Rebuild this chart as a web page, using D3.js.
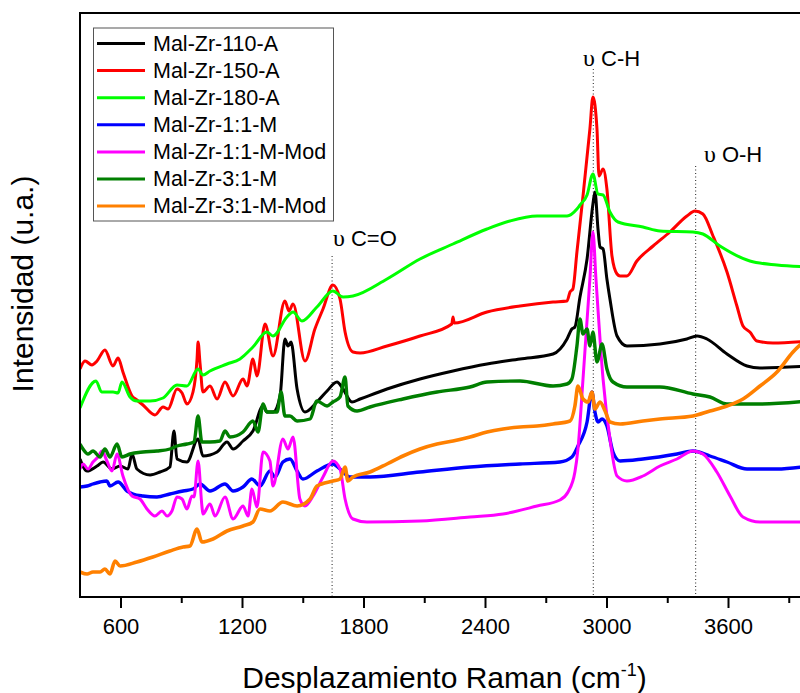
<!DOCTYPE html>
<html>
<head>
<meta charset="utf-8">
<script src="https://cdn.jsdelivr.net/npm/d3@7"></script>
<style>
  html, body { margin: 0; padding: 0; background: #fff; }
  svg { display: block; font-family: "Liberation Sans", Arial, sans-serif; }
</style>
</head>
<body>
<svg id="chart" width="800" height="693"></svg>
<script>
// Raman spectra: [wavenumber (cm-1), intensity (a.u.)]
const mal110A = [
  [400,138],[435,126],[484,131],[514,135],[558,128],[598,131],[637,128],[657,143],[681,128],
  [746,122],[795,125],[844,130],[864,166],[879,138],[928,135],[983,158],[1007,141],[1077,145],
  [1126,155],[1156,148],[1205,156],[1254,166],[1304,191],[1323,185],[1353,185],[1388,201],
  [1412,258],[1427,251],[1442,255],[1472,208],[1511,185],[1570,195],[1620,206],[1669,215],
  [1699,208],[1743,195],[1783,198],[1916,208],[2079,218],[2242,226],[2410,233],[2573,238],
  [2736,243],[2805,258],[2829,268],[2844,270],[2869,300],[2904,338],[2933,393],[2943,405],
  [2958,368],[2968,350],[2983,348],[3002,318],[3017,298],[3052,261],[3101,251],[3264,253],
  [3397,258],[3447,261],[3496,258],[3595,243],[3694,231],[3758,229],[4000,231]
];
const mal150A = [
  [400,228],[425,236],[459,232],[484,236],[523,247],[563,231],[588,239],[612,225],[657,201],
  [681,197],[711,192],[770,182],[810,190],[835,188],[879,208],[904,204],[928,193],[958,205],
  [978,238],[983,255],[993,233],[1007,205],[1042,211],[1077,198],[1116,215],[1156,201],
  [1205,218],[1225,211],[1254,238],[1274,221],[1314,273],[1353,241],[1412,296],[1432,286],
  [1452,293],[1511,236],[1560,268],[1600,288],[1649,312],[1684,298],[1709,265],[1748,245],
  [1783,244],[1916,251],[2079,261],[2236,273],[2242,280],[2248,274],[2410,285],[2573,291],
  [2736,295],[2805,296],[2820,305],[2834,308],[2854,345],[2884,401],[2918,468],[2933,500],
  [2953,468],[2963,421],[2983,428],[3002,408],[3027,341],[3052,323],[3067,321],[3101,321],
  [3150,336],[3230,351],[3313,365],[3397,381],[3437,386],[3476,383],[3526,361],[3595,325],
  [3644,291],[3674,271],[3708,265],[3743,256],[3822,254],[4000,256]
];
const mal180A = [
  [400,189],[479,216],[507,205],[563,205],[588,204],[607,215],[647,200],[681,196],[746,196],
  [810,199],[879,212],[928,211],[983,228],[1007,222],[1042,226],[1126,233],[1190,238],
  [1254,250],[1323,265],[1353,261],[1422,280],[1452,285],[1496,276],[1570,290],[1649,306],
  [1699,300],[1748,301],[1916,318],[2079,338],[2242,353],[2410,368],[2523,376],[2657,381],
  [2805,381],[2854,388],[2869,392],[2904,402],[2933,423],[2958,403],[2983,402],[3017,385],
  [3057,375],[3180,370],[3264,366],[3427,365],[3476,363],[3560,351],[3708,336],[3842,332],
  [4000,330]
];
const mal11M = [
  [400,110],[435,111],[464,113],[499,115],[533,116],[548,111],[588,115],[632,106],[662,103],
  [711,101],[780,100],[844,103],[909,106],[958,108],[993,113],[1042,106],[1116,113],[1156,106],
  [1205,110],[1249,118],[1289,111],[1338,126],[1363,120],[1402,135],[1437,138],[1472,126],
  [1501,118],[1570,126],[1649,133],[1684,128],[1733,120],[1832,120],[2079,125],[2326,130],
  [2573,133],[2770,135],[2829,140],[2859,151],[2904,175],[2928,205],[2943,185],[2958,175],
  [2978,178],[3002,171],[3032,145],[3067,136],[3180,138],[3348,143],[3427,146],[3511,141],
  [3595,135],[3694,128],[3842,128],[4000,131]
];
const mal11MMod = [
  [400,128],[415,133],[440,128],[464,135],[489,140],[509,146],[533,136],[558,126],[583,143],
  [612,121],[657,101],[696,98],[731,88],[770,81],[805,86],[830,81],[854,86],[879,100],[904,98],
  [928,88],[953,101],[963,100],[983,136],[1002,91],[1007,83],[1042,93],[1067,81],[1116,100],
  [1156,78],[1205,91],[1230,81],[1249,108],[1274,90],[1304,145],[1338,136],[1353,111],
  [1402,158],[1427,148],[1452,160],[1486,98],[1511,91],[1551,101],[1600,120],[1649,136],
  [1684,128],[1709,98],[1748,78],[1817,75],[2079,76],[2326,80],[2489,83],[2657,91],[2770,97],
  [2810,105],[2844,125],[2859,148],[2884,218],[2918,318],[2933,365],[2948,318],[2983,218],
  [3017,158],[3052,121],[3101,116],[3180,121],[3264,131],[3348,138],[3427,146],[3476,143],
  [3545,125],[3610,101],[3674,80],[3758,75],[4000,75]
];
const mal31M = [
  [400,153],[415,148],[440,143],[464,146],[499,140],[523,148],[548,140],[583,153],[607,140],
  [647,143],[711,145],[780,146],[844,148],[879,151],[928,153],[963,155],[983,181],[1002,155],
  [1042,155],[1091,156],[1116,166],[1141,160],[1205,165],[1254,176],[1279,165],[1304,193],
  [1323,185],[1373,185],[1393,205],[1412,181],[1437,181],[1472,176],[1536,178],[1570,196],
  [1620,191],[1649,195],[1684,200],[1709,220],[1723,191],[1768,186],[1832,190],[1995,198],
  [2163,205],[2326,210],[2410,215],[2573,216],[2736,211],[2805,213],[2829,218],[2854,251],
  [2869,278],[2884,263],[2904,268],[2918,251],[2933,265],[2953,235],[2978,253],[3002,228],
  [3032,215],[3101,210],[3264,210],[3427,203],[3511,200],[3595,193],[3758,193],[4000,196]
];
const mal31MMod = [
  [400,25],[435,23],[464,25],[499,25],[523,28],[548,23],[573,36],[598,31],[681,35],[760,40],
  [844,46],[909,50],[943,51],[978,68],[1002,55],[1057,58],[1126,66],[1205,71],[1254,75],
  [1289,88],[1338,86],[1402,95],[1472,91],[1536,98],[1570,111],[1649,116],[1684,118],
  [1709,130],[1723,116],[1748,120],[1832,125],[1916,133],[1995,141],[2079,148],[2163,153],
  [2242,156],[2326,160],[2410,165],[2489,168],[2573,170],[2657,171],[2736,173],[2820,176],
  [2844,191],[2859,211],[2884,198],[2909,195],[2928,205],[2943,188],[2968,195],[2993,186],
  [3017,175],[3067,173],[3180,176],[3264,178],[3427,181],[3511,186],[3595,191],[3674,198],
  [3758,211],[3842,225],[3921,245],[4000,260]
];

const seriesNames = ["Mal-Zr-110-A", "Mal-Zr-150-A", "Mal-Zr-180-A", "Mal-Zr-1:1-M",
                     "Mal-Zr-1:1-M-Mod", "Mal-Zr-3:1-M", "Mal-Zr-3:1-M-Mod"];
const seriesData = [mal110A, mal150A, mal180A, mal11M, mal11MMod, mal31M, mal31MMod];
const seriesColors = ["#000000", "#ff0000", "#00ff00", "#0000ff", "#ff00ff", "#007f00", "#ff8000"];
const seriesWidths = [3, 3, 3, 3.4, 3, 3.4, 3.6];

const xTicks = [600, 1200, 1800, 2400, 3000, 3600];
const xMinorTicks = [900, 1500, 2100, 2700, 3300, 3900];

// Band assignments: [line position, label position, vibration, line top intensity, label baseline intensity]
const bands = [
  [1645, 1649, "C=O", 341, 351],
  [2935, 2884, "C-H", 528, 531],
  [3440, 3481, "O-H", 431, 435]
];

const svg = d3.select("#chart");
const plotLeft = 80, plotRight = 809, plotTop = 13, plotBottom = 597;

const x = d3.scaleLinear().domain([400, 4000]).range([plotLeft, plotRight]);
const y = d3.scaleLinear().domain([0, 584]).range([plotBottom, plotTop]);

svg.append("defs").append("clipPath").attr("id", "plotClip")
  .append("rect").attr("x", plotLeft).attr("y", plotTop)
  .attr("width", plotRight - plotLeft).attr("height", plotBottom - plotTop);

// dotted band markers
const bandG = svg.append("g");
bands.forEach(b => {
  bandG.append("line")
    .attr("x1", x(b[0])).attr("x2", x(b[0]))
    .attr("y1", y(b[3])).attr("y2", plotBottom)
    .attr("stroke", "#444").attr("stroke-width", 1.2)
    .attr("stroke-dasharray", "1,2.5");
  const t = bandG.append("text")
    .attr("x", x(b[1])).attr("y", y(b[4]))
    .attr("font-size", 22).attr("fill", "#000");
  t.append("tspan").attr("font-family", "Liberation Serif, DejaVu Serif, serif")
    .attr("font-size", 24).text("\u03C5");
  t.append("tspan").text(" " + b[2]);
});

// spectra
const line = d3.line().x(d => x(d[0])).y(d => y(d[1])).curve(d3.curveMonotoneX);
const curves = svg.append("g").attr("clip-path", "url(#plotClip)");
seriesData.forEach((s, i) => {
  curves.append("path")
    .attr("d", line(s))
    .attr("fill", "none")
    .attr("stroke", seriesColors[i])
    .attr("stroke-width", seriesWidths[i])
    .attr("stroke-linejoin", "round");
});

// frame
svg.append("rect")
  .attr("x", plotLeft).attr("y", plotTop)
  .attr("width", plotRight - plotLeft).attr("height", plotBottom - plotTop)
  .attr("fill", "none").attr("stroke", "#000").attr("stroke-width", 2);

// bottom axis
const xAxis = d3.axisBottom(x).tickValues(xTicks).tickSize(11).tickPadding(10).tickFormat(d3.format("d"));
const gx = svg.append("g").attr("transform", `translate(0,${plotBottom})`).call(xAxis);
gx.select(".domain").remove();
gx.selectAll(".tick line").attr("stroke", "#000").attr("stroke-width", 2);
gx.selectAll(".tick text").attr("font-size", 22).attr("fill", "#000")
  .attr("font-family", "Liberation Sans, Arial, sans-serif");

const gxm = svg.append("g").attr("transform", `translate(0,${plotBottom})`)
  .call(d3.axisBottom(x).tickValues(xMinorTicks).tickSize(6).tickFormat(""));
gxm.select(".domain").remove();
gxm.selectAll(".tick line").attr("stroke", "#000").attr("stroke-width", 2);

// axis titles
const xt = svg.append("text")
  .attr("x", (plotLeft + plotRight) / 2).attr("y", 688)
  .attr("text-anchor", "middle").attr("font-size", 30).attr("fill", "#000");
xt.append("tspan").text("Desplazamiento Raman (cm");
xt.append("tspan").attr("font-size", 18).attr("dy", -12).text("-1");
xt.append("tspan").attr("dy", 12).text(")");

svg.append("text")
  .attr("transform", "translate(33,284) rotate(-90)")
  .attr("text-anchor", "middle").attr("font-size", 30).attr("fill", "#000")
  .text("Intensidad (u.a.)");

// legend
const lg = svg.append("g");
lg.append("rect")
  .attr("x", 93.5).attr("y", 28).attr("width", 240).attr("height", 193)
  .attr("fill", "#fff").attr("stroke", "#555").attr("stroke-width", 1);
seriesNames.forEach((n, i) => {
  const yy = 43.5 + i * 27.1;
  lg.append("line").attr("x1", 97).attr("x2", 145).attr("y1", yy).attr("y2", yy)
    .attr("stroke", seriesColors[i]).attr("stroke-width", 3);
  lg.append("text").attr("x", 153).attr("y", yy + 7)
    .attr("font-size", 21.5).attr("fill", "#000").text(n);
});
</script>
</body>
</html>
